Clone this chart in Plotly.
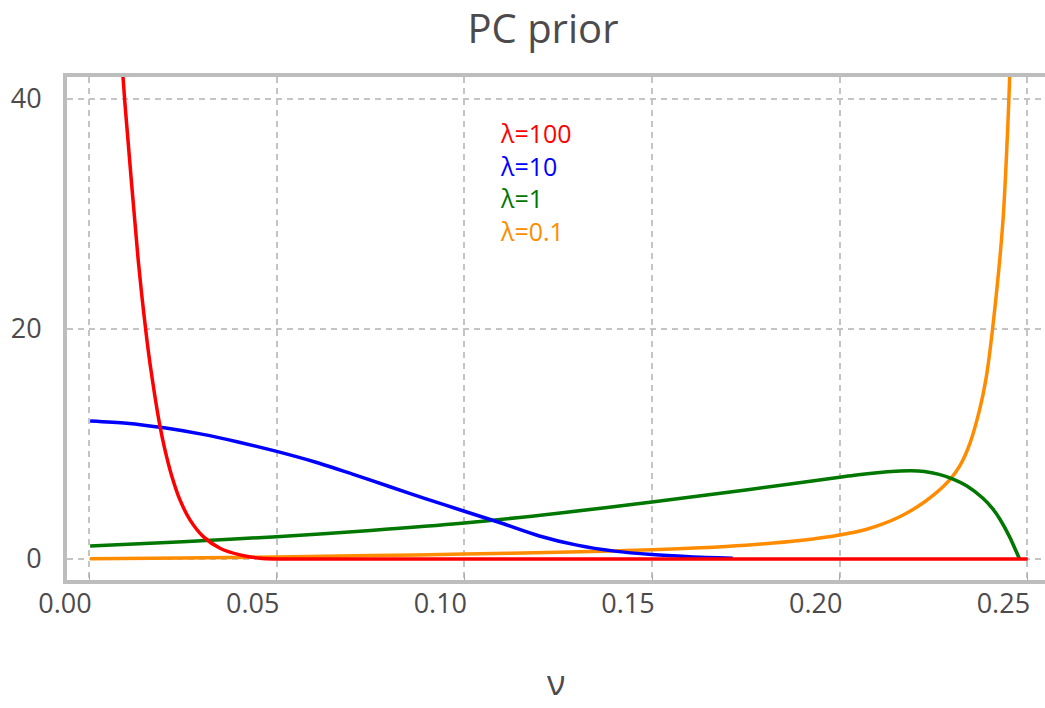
import plotly.graph_objects as go

# ---- data ----
lambda_labels = ["λ=100", "λ=10", "λ=1", "λ=0.1"]

nu_red = [0.0085, 0.00906, 0.0096, 0.01305, 0.01404, 0.01537, 0.01625, 0.01758, 0.01891,
          0.02024, 0.02203, 0.02424, 0.0269, 0.03045, 0.0349, 0.04022, 0.04555, 0.05,
          0.07, 0.10, 0.15, 0.20, 0.2501]
pdf_red = [44.5, 41.9, 39.5, 26.2, 23.0, 19.2, 17.0, 14.1, 11.55,
           9.49, 7.24, 5.13, 3.40, 1.94, 0.93, 0.35, 0.06, 0.0,
           0.0, 0.0, 0.0, 0.0, 0.0]

nu_blue = [0.0003, 0.01, 0.02, 0.03, 0.04, 0.05, 0.06, 0.07, 0.08, 0.09,
           0.10, 0.11, 0.12, 0.13, 0.14, 0.15, 0.16, 0.1715]
pdf_blue = [12.0, 11.8, 11.4, 10.85, 10.15, 9.35, 8.45, 7.4, 6.3, 5.2,
            4.15, 3.1, 2.0, 1.2, 0.68, 0.38, 0.2, 0.07]

nu_green = [0.0003, 0.025, 0.05, 0.075, 0.10, 0.125, 0.15, 0.175, 0.20, 0.205,
            0.21, 0.215, 0.219, 0.2225, 0.2265, 0.2305, 0.2339, 0.2381, 0.2408,
            0.2427, 0.2453, 0.2475, 0.2479]
pdf_green = [1.13, 1.5, 1.94, 2.48, 3.13, 3.98, 4.96, 6.0, 7.1, 7.33,
             7.5, 7.62, 7.66, 7.6, 7.35, 6.9, 6.35, 5.3, 4.35,
             3.45, 1.9, 0.3, 0.0]

nu_orange = [0.0003, 0.025, 0.05, 0.075, 0.10, 0.125, 0.15, 0.1628, 0.175, 0.1894,
             0.2, 0.2072, 0.2115, 0.216, 0.2206, 0.2248, 0.2293, 0.232, 0.2347,
             0.2373, 0.239, 0.2408, 0.2435, 0.2448, 0.2453, 0.2458]
pdf_orange = [0.02, 0.08, 0.17, 0.29, 0.42, 0.58, 0.8, 0.97, 1.2, 1.6,
              2.08, 2.58, 3.04, 3.67, 4.51, 5.5, 6.88, 8.09, 10.05,
              13.0, 15.7, 20.2, 29.4, 37.7, 42.0, 46.8]

x_tickvals = [0.00, 0.05, 0.10, 0.15, 0.20, 0.25]
x_ticktext = ["0.00", "0.05", "0.10", "0.15", "0.20", "0.25"]
y_tickvals = [0, 20, 40]
y_ticktext = ["0", "20", "40"]

series = [
    (nu_red, pdf_red, "#ff0000"),
    (nu_blue, pdf_blue, "#0000ff"),
    (nu_green, pdf_green, "#007700"),
    (nu_orange, pdf_orange, "#ff8c00"),
]

FONT = "Open Sans, Lato, sans-serif"
TXT = "#4d4a4d"
GRID = "#c4c4c4"
FRAME = "#bdbdbd"

fig = go.Figure()
# draw order so red sits on top near zero like the reference
for idx in [3, 2, 1, 0]:
    xs, ys, col = series[idx]
    fig.add_trace(go.Scatter(x=xs, y=ys, mode="lines",
                             line=dict(color=col, width=3.5, shape="spline", smoothing=0.8),
                             name=lambda_labels[idx], showlegend=False, hoverinfo="skip"))

# text legend (one block, coloured lines)
legend_html = "<br>".join(
    f"<span style='color:{col}'>{lab}</span>"
    for lab, (_, _, col) in zip(lambda_labels, series)
)
fig.add_annotation(x=0.109, y=32.8, xref="x", yref="y", text=legend_html,
                   showarrow=False, xanchor="left", yanchor="middle", align="left",
                   font=dict(family=FONT, size=25, color=TXT))

fig.add_annotation(x=0.5, y=-0.2525, xref="paper", yref="paper", text="ν",
                   showarrow=False, xanchor="center", yanchor="bottom",
                   font=dict(family=FONT, size=34, color=TXT))

fig.update_layout(
    width=1045, height=708, autosize=False,
    margin=dict(l=67, r=0, t=77, b=128),
    paper_bgcolor="white", plot_bgcolor="white",
    title=dict(text="PC prior", x=543 / 1045, xref="container", xanchor="center",
               y=1 - 29 / 708, yref="container", yanchor="middle",
               font=dict(family=FONT, size=40, color=TXT)),
    xaxis=dict(range=[-0.00586, 0.2547], tickvals=x_tickvals, ticktext=x_ticktext,
               showgrid=True, gridcolor=GRID, griddash="6px,5px", gridwidth=1.5,
               showline=True, linecolor=FRAME, linewidth=4, mirror=True,
               ticks="inside", ticklen=6, tickcolor="#aaaaaa", tickwidth=1,
               zeroline=False, ticklabelshift=-24, ticklabelstandoff=-3,
               tickfont=dict(family=FONT, size=27, color=TXT)),
    yaxis=dict(range=[-1.83, 41.9], tickvals=y_tickvals, ticktext=y_ticktext,
               showgrid=True, gridcolor=GRID, griddash="6px,5px", gridwidth=1.5,
               showline=True, linecolor=FRAME, linewidth=4, mirror=False,
               ticks="", zeroline=False, ticklabelstandoff=16,
               tickfont=dict(family=FONT, size=27, color=TXT)),
)

fig.write_html("out.html", config={"displayModeBar": False},
               post_script="document.body.style.margin='0';document.body.style.overflow='hidden';")
